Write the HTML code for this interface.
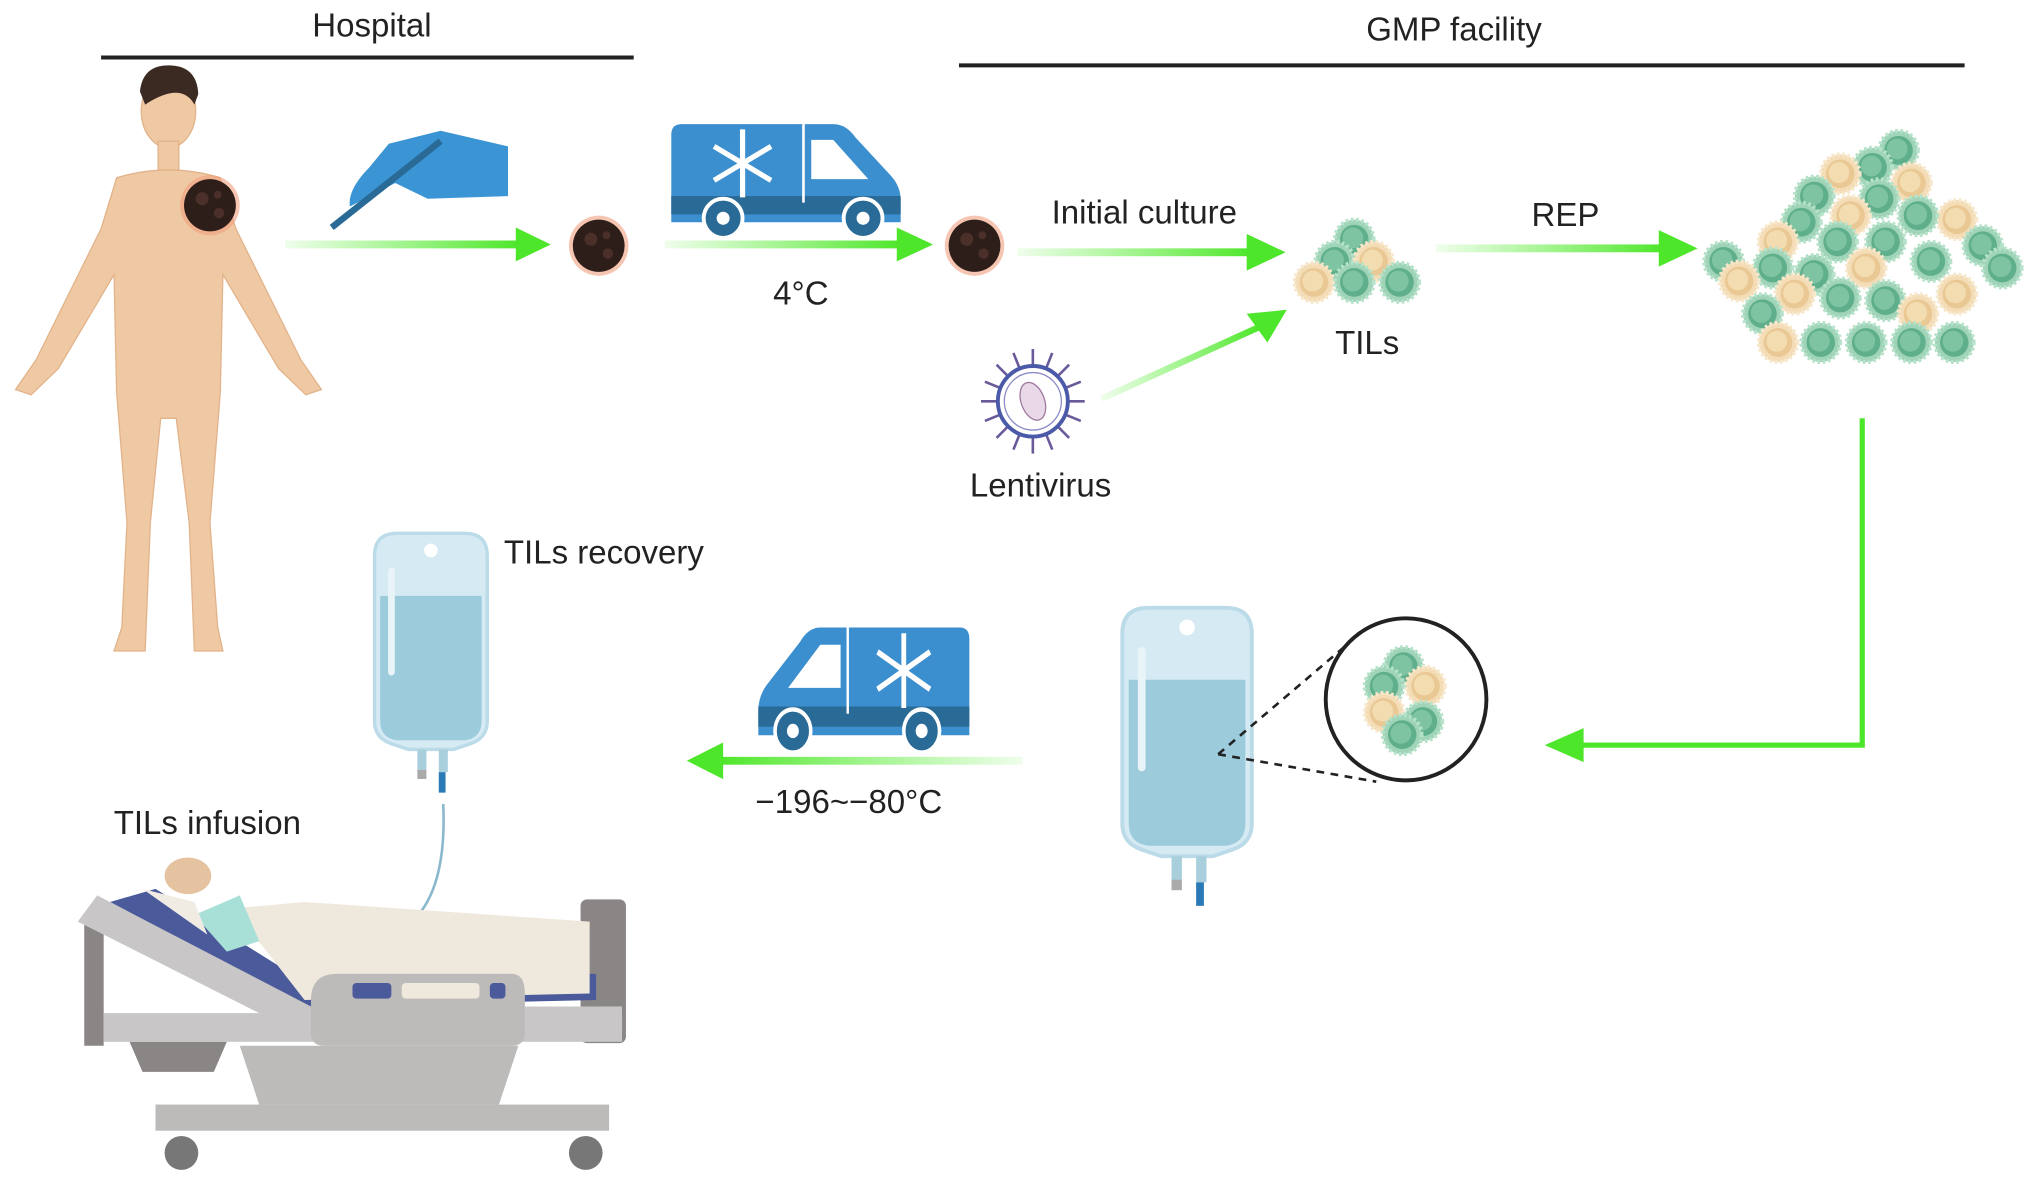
<!DOCTYPE html>
<html><head><meta charset="utf-8"><style>
html,body{margin:0;padding:0;background:#fff;}
svg{display:block;}
text{font-family:"Liberation Sans",Arial,sans-serif;fill:#222;}
</style></head><body>
<svg width="2032" height="1183" viewBox="0 0 1568 905" preserveAspectRatio="none" xmlns="http://www.w3.org/2000/svg">
<defs>
<linearGradient id="ga" x1="0" x2="1" y1="0" y2="0"><stop offset="0" stop-color="#5ef03a" stop-opacity="0.1"/><stop offset="1" stop-color="#4ee62a"/></linearGradient>
<g id="cg"><circle r="15" fill="#9fd4b8" stroke="#b6e2ca" stroke-width="3" stroke-dasharray="2 2"/><circle r="11" fill="#5fae8c"/><circle r="8" cx="-1" cy="-1" fill="#7ec4a3"/></g>
<g id="cy"><circle r="15" fill="#f3dcb6" stroke="#f7e8cc" stroke-width="3" stroke-dasharray="2 2"/><circle r="11" fill="#e9c894"/><circle r="8" cx="-1" cy="-1" fill="#f3dcb0"/></g>
<g id="tum"><circle r="23" fill="#f0a080" opacity="0.6"/><circle r="20" fill="#2e1e1a"/><circle r="5" cx="-6" cy="-5" fill="#4a3028"/><circle r="4" cx="7" cy="6" fill="#4a3028"/><circle r="3" cx="6" cy="-8" fill="#4a3028"/></g>
<g id="bag">
<path d="M0,20 Q0,0 20,0 L80,0 Q100,0 100,20 L100,165 Q100,180 85,185 L70,190 L30,190 L15,185 Q0,180 0,165 Z" fill="#d5eaf3" stroke="#bcdbe9" stroke-width="3"/>
<path d="M5,55 L95,55 L95,165 Q95,180 80,182 L20,182 Q5,180 5,165 Z" fill="#9ccbdc"/>
<rect x="12" y="30" width="6" height="95" rx="3" fill="#e8f4f8"/>
<circle cx="50" cy="15" r="6" fill="#fff"/>
<rect x="38" y="190" width="8" height="20" fill="#a9cfdd"/><rect x="57" y="190" width="8" height="20" fill="#a9cfdd"/>
<rect x="38" y="208" width="8" height="8" fill="#aaa"/><rect x="57" y="210" width="6" height="18" fill="#2a7ab8"/>
</g>
<g id="van">
<path d="M0,8 Q0,0 8,0 L102,0 L125,0 Q135,0 142,10 L170,40 Q177,48 177,58 L177,75 L0,75 Z" fill="#3b8fcf"/>
<rect x="0" y="55" width="177" height="14" fill="#2a6a96"/>
<path d="M108,12 L125,12 L152,42 L108,42 Z" fill="#fff"/>
<line x1="102" y1="0" x2="102" y2="60" stroke="#fff" stroke-width="2"/>
<g stroke="#fff" stroke-width="4" fill="none" transform="translate(55,30)"><line x1="0" y1="-26" x2="0" y2="26"/><line x1="-22" y1="-13" x2="22" y2="13"/><line x1="-22" y1="13" x2="22" y2="-13"/></g>
<circle cx="40" cy="72" r="15" fill="#2a6a96" stroke="#fff" stroke-width="3"/><circle cx="40" cy="72" r="5" fill="#fff"/>
<circle cx="148" cy="72" r="15" fill="#2a6a96" stroke="#fff" stroke-width="3"/><circle cx="148" cy="72" r="5" fill="#fff"/>
</g>
</defs>

<text x="287" y="28" font-size="25.5" text-anchor="middle">Hospital</text>
<line x1="78" y1="44" x2="489" y2="44" stroke="#222" stroke-width="3"/>
<text x="1122" y="31" font-size="25.5" text-anchor="middle">GMP facility</text>
<line x1="740" y1="50" x2="1516" y2="50" stroke="#222" stroke-width="3"/>

<!-- human -->
<g fill="#efc9a4" stroke="#e2b38a" stroke-width="1">
<ellipse cx="130" cy="85" rx="21" ry="28"/>
<rect x="122" y="108" width="16" height="22"/>
<path d="M90,136 Q130,124 170,136 L182,175 L232,275 L248,298 L236,302 L215,282 L172,210 L170,300 L162,400 L168,480 L172,498 L150,498 L146,400 L136,320 L124,320 L116,400 L112,498 L88,498 L94,480 L98,400 L90,300 L88,210 L45,282 L24,302 L12,298 L28,275 L78,175 Z"/>
</g>
<path d="M108,70 Q110,50 130,50 Q152,50 153,72 L150,80 Q140,62 112,80 Z" fill="#3a2a22"/>
<use href="#tum" x="162" y="157"/>

<path d="M300,110 L340,100 L392,112 L392,150 L330,152 L305,140 L270,158 Q268,145 285,128 Z" fill="#3b95d5"/>
<line x1="340" y1="108" x2="256" y2="174" stroke="#2a6a96" stroke-width="5"/>

<g fill="#4ee62a">
<rect x="220" y="184" width="180" height="6" fill="url(#ga)"/><polygon points="398,174 425,187 398,200"/>
<rect x="513" y="184" width="182" height="6" fill="url(#ga)"/><polygon points="692,174 720,187 692,200"/>
<rect x="785" y="190" width="180" height="6" fill="url(#ga)"/><polygon points="962,179 992,193 962,207"/>
<rect x="1108" y="187" width="175" height="6" fill="url(#ga)"/><polygon points="1280,176 1310,190 1280,204"/>
</g>
<line x1="850" y1="305" x2="972" y2="250" stroke="url(#ga)" stroke-width="5"/>
<polygon points="962,240 993,237 978,262" fill="#4ee62a"/>

<use href="#tum" x="462" y="188"/>
<use href="#van" x="518" y="95"/>
<text x="618" y="233" font-size="25.5" text-anchor="middle">4°C</text>
<use href="#tum" x="752" y="188"/>
<text x="883" y="171" font-size="25.5" text-anchor="middle">Initial culture</text>
<text x="1208" y="173" font-size="25.5" text-anchor="middle">REP</text>

<use href="#cg" x="1045" y="183"/><use href="#cg" x="1030" y="200"/><use href="#cy" x="1060" y="200"/>
<use href="#cy" x="1014" y="216"/><use href="#cg" x="1045" y="216"/><use href="#cg" x="1080" y="216"/>
<text x="1055" y="271" font-size="25.5" text-anchor="middle">TILs</text>

<g transform="translate(797,307)">
<g stroke="#6a5a9a" stroke-width="2">
<line x1="0" y1="-40" x2="0" y2="40"/><line x1="-40" y1="0" x2="40" y2="0"/><line x1="-28" y1="-28" x2="28" y2="28"/><line x1="-28" y1="28" x2="28" y2="-28"/>
<line x1="-15" y1="-37" x2="15" y2="37"/><line x1="-37" y1="-15" x2="37" y2="15"/><line x1="-37" y1="15" x2="37" y2="-15"/><line x1="-15" y1="37" x2="15" y2="-37"/>
</g>
<circle r="27" fill="#fff" stroke="#4a5aa8" stroke-width="3"/>
<circle r="22" fill="#fff" stroke="#8a8ac8" stroke-width="1"/>
<ellipse rx="9" ry="15" fill="#e8d8e8" stroke="#a07aa0" transform="rotate(-20)"/>
</g>
<text x="803" y="380" font-size="25.5" text-anchor="middle">Lentivirus</text>

<g>
<use href="#cg" x="1465" y="115"/><use href="#cg" x="1445" y="128"/><use href="#cy" x="1420" y="133"/><use href="#cy" x="1475" y="140"/>
<use href="#cg" x="1400" y="150"/><use href="#cg" x="1450" y="152"/><use href="#cy" x="1428" y="165"/><use href="#cy" x="1510" y="168"/>
<use href="#cg" x="1390" y="170"/><use href="#cg" x="1480" y="165"/><use href="#cy" x="1372" y="185"/><use href="#cg" x="1418" y="185"/>
<use href="#cg" x="1455" y="185"/><use href="#cg" x="1530" y="188"/><use href="#cg" x="1330" y="200"/><use href="#cg" x="1368" y="205"/>
<use href="#cy" x="1342" y="215"/><use href="#cg" x="1400" y="210"/><use href="#cy" x="1440" y="205"/><use href="#cg" x="1490" y="200"/>
<use href="#cy" x="1510" y="225"/><use href="#cy" x="1385" y="225"/><use href="#cg" x="1420" y="228"/><use href="#cg" x="1455" y="230"/>
<use href="#cg" x="1360" y="240"/><use href="#cy" x="1480" y="240"/><use href="#cy" x="1372" y="262"/><use href="#cg" x="1405" y="262"/>
<use href="#cg" x="1440" y="262"/><use href="#cg" x="1475" y="262"/><use href="#cg" x="1508" y="262"/><use href="#cg" x="1545" y="205"/>
</g>

<polyline points="1437,320 1437,570 1215,570" fill="none" stroke="#4ee62a" stroke-width="4"/>
<polygon points="1222,557 1192,570 1222,583" fill="#4ee62a"/>

<use href="#bag" x="866" y="465"/>
<line x1="940" y1="577" x2="1055" y2="480" stroke="#222" stroke-width="2" stroke-dasharray="6 5"/>
<line x1="940" y1="577" x2="1062" y2="598" stroke="#222" stroke-width="2" stroke-dasharray="6 5"/>
<circle cx="1085" cy="535" r="62" fill="#fff" stroke="#222" stroke-width="3"/>
<use href="#cg" x="1083" y="510"/><use href="#cg" x="1068" y="525"/><use href="#cy" x="1100" y="525"/>
<use href="#cy" x="1068" y="545"/><use href="#cg" x="1098" y="552"/><use href="#cg" x="1082" y="562"/>

<g transform="translate(748,480) scale(-0.92,1.1)"><use href="#van"/></g>
<rect x="555" y="579" width="235" height="6" fill="url(#ga)" transform="rotate(180 672 582)"/>
<polygon points="558,568 530,582 558,596" fill="#4ee62a"/>
<text x="655" y="622" font-size="25.5" text-anchor="middle">−196~−80°C</text>

<use href="#bag" x="289" y="408" transform="translate(289,408) scale(0.87) translate(-289,-408)"/>
<text x="466" y="431" font-size="25.5" text-anchor="middle">TILs recovery</text>
<path d="M342,615 Q345,680 318,705" fill="none" stroke="#8ab8cc" stroke-width="2"/>
<text x="160" y="638" font-size="25.5" text-anchor="middle">TILs infusion</text>

<g>
<rect x="65" y="705" width="15" height="95" fill="#8a8686"/>
<rect x="448" y="688" width="35" height="110" rx="5" fill="#8a8686"/>
<rect x="80" y="775" width="400" height="22" fill="#c8c6c6"/>
<path d="M100,797 L175,797 L165,820 L110,820 Z" fill="#8a8686"/>
<path d="M185,800 L400,800 L385,845 L200,845 Z" fill="#bdbaba"/>
<rect x="120" y="845" width="350" height="20" fill="#bdbaba"/>
<circle cx="140" cy="882" r="13" fill="#777"/><circle cx="452" cy="882" r="13" fill="#777"/>
<path d="M85,690 L235,770 L460,765 L460,745 L225,745 L120,680 Z" fill="#4a5a9a"/>
<path d="M60,705 L230,790 L480,790 L480,770 L240,770 L75,685 Z" fill="#c8c6c6"/>
<path d="M180,695 L235,690 L455,705 L455,760 L235,765 Z" fill="#efe8dc"/>
<path d="M150,700 L185,685 L200,720 L175,728 Z" fill="#a8e0d8"/>
<ellipse cx="145" cy="670" rx="18" ry="14" fill="#e6c3a0"/>
<path d="M110,680 L150,690 L160,715 Z" fill="#f0ece4"/>
<path d="M240,765 Q240,745 260,745 L395,745 Q405,745 405,760 L405,790 Q405,800 395,800 L250,800 Q240,800 240,790 Z" fill="#bdbaba"/>
<rect x="272" y="752" width="30" height="12" rx="3" fill="#4a5a9a"/>
<rect x="310" y="752" width="60" height="12" rx="3" fill="#efe8dc"/>
<rect x="378" y="752" width="12" height="12" rx="3" fill="#4a5a9a"/>
</g>
</svg>
</body></html>
